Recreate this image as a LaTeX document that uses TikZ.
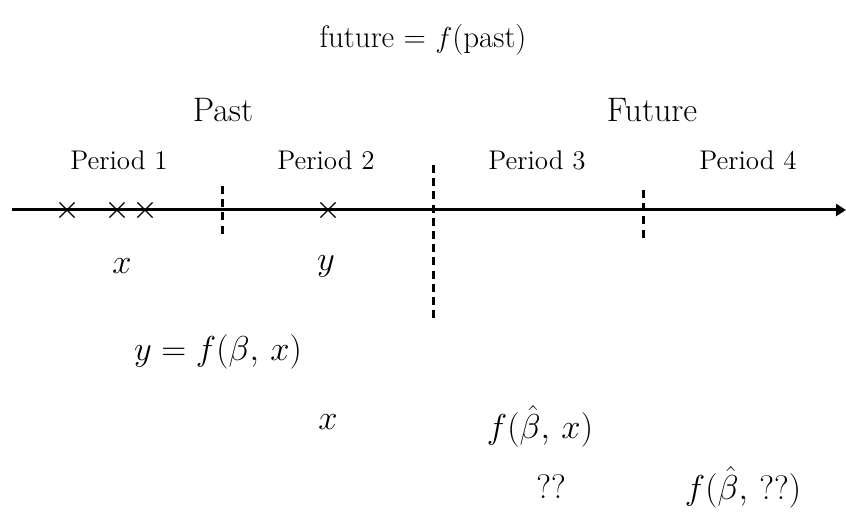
\documentclass[tikz,border=0pt]{standalone}
\usepackage{amsmath,amssymb}
\usepackage{tikz}
\usetikzlibrary{arrows.meta,positioning,calc,shapes.misc}

\tikzset{
	timeline/.style={line width=1.5pt,-{Triangle[length=5pt,width=6pt]}},
	divider/.style={line width=1.5pt,dash pattern=on 4pt off 2.6pt},
	obs/.style={cross out,draw,line width=0.55pt,minimum size=7pt,inner sep=0pt},
	era/.style={font=\fontsize{17}{19}\selectfont},
	period/.style={font=\fontsize{13.5}{15}\selectfont},
	formula/.style={font=\fontsize{17}{19}\selectfont},
	headline/.style={font=\fontsize{15.5}{17}\selectfont}
}

\begin{document}
\begin{tikzpicture}[x=0.5pt,y=-0.5pt]
	\useasboundingbox (0,0) rectangle (846,523);
	
	% title
	\node[headline] (title) at (423,40) {future = $f$(past)};
	
	% headings
	\node[era] (past) at (223,110) {Past};
	\node[era] (future) at (652,110) {Future};
	\node[period] (p1) at (119,160) {Period 1};
	\node[period] (p2) at (326,160) {Period 2};
	\node[period] (p3) at (537,160) {Period 3};
	\node[period] (p4) at (748,160) {Period 4};
	
	% time axis
	\coordinate (start) at (12,210);
	\coordinate (end) at (846,210);
	\draw[timeline] (start) -- (end);
	
	\coordinate (d1top) at (222,186);
	\coordinate (d1bot) at (222,238);
	\coordinate (d2top) at (433,165);
	\coordinate (d2bot) at (433,318);
	\coordinate (d3top) at (643,190);
	\coordinate (d3bot) at (643,238);
	\draw[divider] (d1top) -- (d1bot);
	\draw[divider] (d2top) -- (d2bot);
	\draw[divider] (d3top) -- (d3bot);
	
	% observations
	\node[obs] (o1) at (67,210) {};
	\node[obs] (o2) at (117,210) {};
	\node[obs] (o3) at (145,210) {};
	\node[obs] (o4) at (328,210) {};
	
	\node[formula] (xa) at (122,266) {$x$};
	\node[formula] (ya) at (326,266) {$y$};
	
	% estimation and forecasts
	\node[formula] (model) at (218,352) {$y = f(\beta,\, x)$};
	\node[formula] (xb) at (328,422) {$x$};
	\node[formula] (fx) at (540,426) {$f(\hat{\beta},\, x)$};
	\node[formula] (unk) at (551,487) {??};
	\node[formula] (fu) at (743,487) {$f(\hat{\beta},\, \text{??})$};
\end{tikzpicture}
\end{document}
